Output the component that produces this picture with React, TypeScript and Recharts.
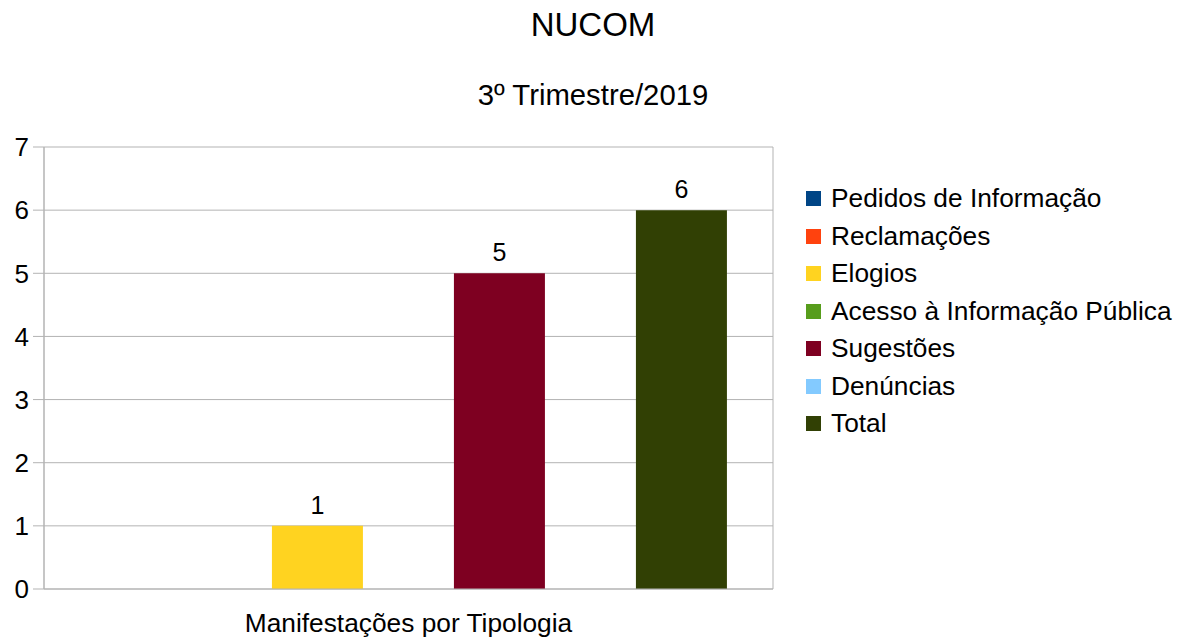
import React from 'react';
import { BarChart, Bar, XAxis, YAxis, CartesianGrid, LabelList } from 'recharts';

const categories = ['Manifestações por Tipologia'];
const seriesNames = [
  'Pedidos de Informação',
  'Reclamações',
  'Elogios',
  'Acesso à Informação Pública',
  'Sugestões',
  'Denúncias',
  'Total',
];
const seriesValues = [0, 0, 1, 0, 5, 0, 6];
const seriesColors = ['#004586', '#ff420e', '#ffd320', '#579d1c', '#7e0021', '#83caff', '#314004'];
const yTicks = [0, 1, 2, 3, 4, 5, 6, 7];

const FONT = '"Liberation Sans", Arial, sans-serif';
const GRID = '#b3b3b3';

// uma linha por categoria, uma chave por série
const data = categories.map((cat) => {
  const row: Record<string, string | number> = { cat };
  seriesNames.forEach((name, i) => {
    row[`s${i}`] = seriesValues[i];
  });
  return row;
});

function LegendBox() {
  return (
    <div style={{ position: 'absolute', left: 806, top: 180, fontFamily: FONT, fontSize: 26.3, color: '#000' }}>
      {seriesNames.map((name, i) => (
        <div key={name} style={{ display: 'flex', alignItems: 'center', height: 37.5, whiteSpace: 'nowrap' }}>
          <span style={{ width: 15, height: 15, background: seriesColors[i], marginRight: 10, display: 'inline-block' }} />
          <span>{name}</span>
        </div>
      ))}
    </div>
  );
}

export default function App() {
  return (
    <div style={{ position: 'absolute', left: 0, top: 0, width: 1186, height: 641, background: '#fff', fontFamily: FONT }}>
      <div style={{ position: 'absolute', left: 0, width: 1186, top: 6, textAlign: 'center', fontSize: 33 }}>NUCOM</div>
      <div style={{ position: 'absolute', left: 0, width: 1186, top: 78, textAlign: 'center', fontSize: 29.3 }}>3º Trimestre/2019</div>
      <BarChart
        width={1186}
        height={641}
        data={data}
        margin={{ top: 147, right: 413, left: 0, bottom: 0 }}
        barGap={0}
        barCategoryGap="6.3%"
      >
        <CartesianGrid
          stroke={GRID}
          strokeWidth={1}
          verticalCoordinatesGenerator={({ offset }: any) => [offset.left, offset.left + offset.width]}
        />
        <XAxis
          dataKey="cat"
          height={52}
          axisLine={{ stroke: GRID }}
          tickLine={false}
          tickSize={0}
          tickMargin={24}
          tick={{ fill: '#000', fontSize: 26.3, fontFamily: FONT }}
        />
        <YAxis
          width={44}
          domain={[0, 7]}
          ticks={yTicks}
          interval={0}
          axisLine={{ stroke: GRID }}
          tickLine={{ stroke: GRID }}
          tickSize={11}
          tickMargin={4}
          tick={{ fill: '#000', fontSize: 26, fontFamily: FONT }}
        />
        {seriesNames.map((name, i) => (
          <Bar key={name} dataKey={`s${i}`} name={name} fill={seriesColors[i]} isAnimationActive={false}>
            <LabelList
              dataKey={`s${i}`}
              position="top"
              offset={12}
              formatter={(v: any) => (v ? String(v) : '')}
              style={{ fill: '#000', fontSize: 25, fontFamily: FONT }}
            />
          </Bar>
        ))}
      </BarChart>
      <LegendBox />
    </div>
  );
}
